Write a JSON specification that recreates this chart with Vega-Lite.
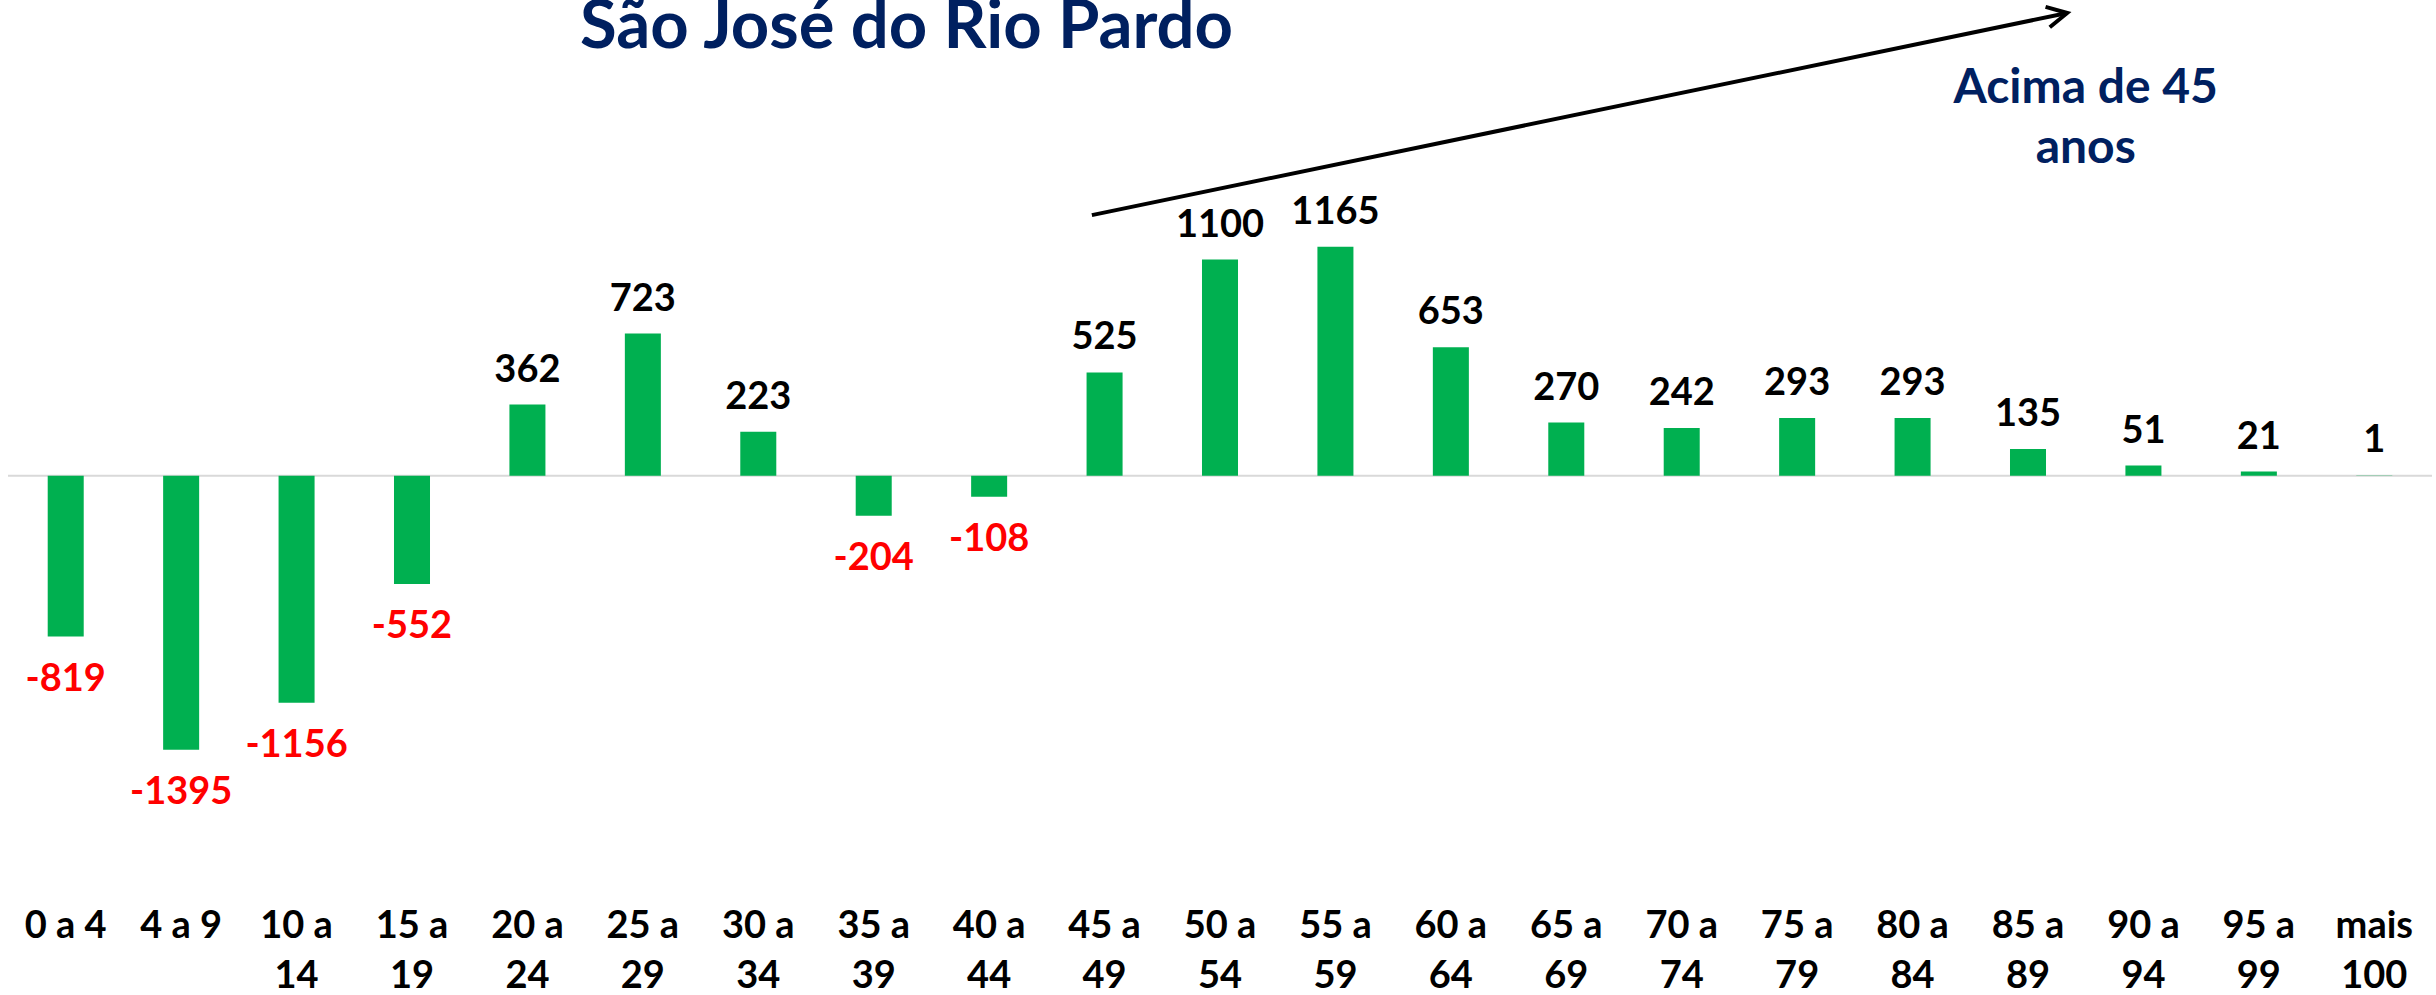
{
  "$schema": "https://vega.github.io/schema/vega-lite/v6.json",
  "width": 2424,
  "height": 900,
  "autosize": {"type": "none"},
  "padding": {"left": 8, "top": 0, "right": 4, "bottom": 95},
  "background": "white",
  "config": {"view": {"stroke": null}},
  "resolve": {"scale": {"x": "independent"}, "axis": {"x": "independent"}},
  "layer": [
    {
      "layer": [
        {
          "data": {"values": [{"v": 0}]},
          "mark": {"type": "rule", "color": "#d9d9d9", "strokeWidth": 2},
          "encoding": {
            "y": {"field": "v", "type": "quantitative", "scale": {"domain": [-2160, 2421], "nice": false, "zero": false}, "axis": null}
          }
        },
        {
          "data": {"values": [{"x": 4.955, "y": 2176, "t": "São José do Rio Pardo"}]},
          "mark": {"type": "text", "align": "left", "baseline": "alphabetic", "font": "Lato", "fontSize": 67, "fontWeight": "bold", "color": "#002060"},
          "encoding": {
            "x": {"field": "x", "type": "quantitative", "scale": {"domain": [0, 21], "nice": false, "zero": false}, "axis": null},
            "y": {"field": "y", "type": "quantitative", "scale": {"domain": [-2160, 2421], "nice": false, "zero": false}, "axis": null},
            "text": {"field": "t"}
          }
        },
        {
          "data": {"values": [{"x": 9.39, "y": 1326, "o": 0}, {"x": 17.84, "y": 2355, "o": 1}]},
          "mark": {"type": "line", "color": "black", "strokeWidth": 4},
          "encoding": {
            "x": {"field": "x", "type": "quantitative", "scale": {"domain": [0, 21], "nice": false, "zero": false}, "axis": null},
            "y": {"field": "y", "type": "quantitative", "scale": {"domain": [-2160, 2421], "nice": false, "zero": false}, "axis": null},
            "order": {"field": "o"}
          }
        },
        {
          "data": {"values": [{"x": 17.84, "y": 2355}]},
          "mark": {"type": "point", "shape": "M -1 -0.52 L 0 0 L -1 0.52", "filled": false, "stroke": "black", "strokeWidth": 4, "size": 1600, "angle": -11.7, "opacity": 1},
          "encoding": {
            "x": {"field": "x", "type": "quantitative", "scale": {"domain": [0, 21], "nice": false, "zero": false}, "axis": null},
            "y": {"field": "y", "type": "quantitative", "scale": {"domain": [-2160, 2421], "nice": false, "zero": false}, "axis": null}
          }
        },
        {
          "data": {"values": [{"x": 18.0, "y": 1897, "t": "Acima de 45\nanos"}]},
          "mark": {"type": "text", "lineBreak": "\n", "lineHeight": 60, "align": "center", "baseline": "alphabetic", "font": "Lato", "fontSize": 48, "fontWeight": "bold", "color": "#002060"},
          "encoding": {
            "x": {"field": "x", "type": "quantitative", "scale": {"domain": [0, 21], "nice": false, "zero": false}, "axis": null},
            "y": {"field": "y", "type": "quantitative", "scale": {"domain": [-2160, 2421], "nice": false, "zero": false}, "axis": null},
            "text": {"field": "t"}
          }
        }
      ]
    },
    {
      "data": {"values": [
        {"faixa": "0 a 4", "valor": -819},
        {"faixa": "4 a 9", "valor": -1395},
        {"faixa": "10 a 14", "valor": -1156},
        {"faixa": "15 a 19", "valor": -552},
        {"faixa": "20 a 24", "valor": 362},
        {"faixa": "25 a 29", "valor": 723},
        {"faixa": "30 a 34", "valor": 223},
        {"faixa": "35 a 39", "valor": -204},
        {"faixa": "40 a 44", "valor": -108},
        {"faixa": "45 a 49", "valor": 525},
        {"faixa": "50 a 54", "valor": 1100},
        {"faixa": "55 a 59", "valor": 1165},
        {"faixa": "60 a 64", "valor": 653},
        {"faixa": "65 a 69", "valor": 270},
        {"faixa": "70 a 74", "valor": 242},
        {"faixa": "75 a 79", "valor": 293},
        {"faixa": "80 a 84", "valor": 293},
        {"faixa": "85 a 89", "valor": 135},
        {"faixa": "90 a 94", "valor": 51},
        {"faixa": "95 a 99", "valor": 21},
        {"faixa": "mais 100", "valor": 1}
      ]},
      "encoding": {
        "x": {
          "field": "faixa",
          "type": "nominal",
          "sort": null,
          "scale": {
            "domain": ["0 a 4", "4 a 9", "10 a 14", "15 a 19", "20 a 24", "25 a 29", "30 a 34", "35 a 39", "40 a 44", "45 a 49", "50 a 54", "55 a 59", "60 a 64", "65 a 69", "70 a 74", "75 a 79", "80 a 84", "85 a 89", "90 a 94", "95 a 99", "mais 100"],
            "paddingInner": 0.688,
            "paddingOuter": 0.344
          },
          "axis": {
            "title": null,
            "orient": "bottom",
            "domain": false,
            "ticks": false,
            "tickSize": 0,
            "grid": false,
            "labelAngle": 0,
            "labelPadding": 37,
            "labelBaseline": "alphabetic",
            "labelLineHeight": 50,
            "labelFont": "Lato",
            "labelFontSize": 38,
            "labelFontWeight": "bold",
            "labelColor": "black",
            "labelOverlap": false,
            "labelLimit": 0,
            "labelExpr": "length(datum.value) <= 5 ? datum.value : [substring(datum.value, 0, lastindexof(datum.value, ' ')), substring(datum.value, lastindexof(datum.value, ' ') + 1)]"
          }
        },
        "y": {"field": "valor", "type": "quantitative", "scale": {"domain": [-2160, 2421], "nice": false, "zero": false}, "axis": null}
      },
      "layer": [
        {"mark": {"type": "bar", "color": "#00B050"}},
        {
          "transform": [{"filter": "datum.valor >= 0"}],
          "mark": {"type": "text", "baseline": "alphabetic", "align": "center", "dy": -23, "font": "Lato", "fontSize": 38, "fontWeight": "bold", "color": "black"},
          "encoding": {"text": {"field": "valor", "type": "nominal"}}
        },
        {
          "transform": [{"filter": "datum.valor < 0"}],
          "mark": {"type": "text", "baseline": "alphabetic", "align": "center", "dy": 54, "font": "Lato", "fontSize": 38, "fontWeight": "bold", "color": "#FF0000"},
          "encoding": {"text": {"field": "valor", "type": "nominal"}}
        }
      ]
    }
  ]
}
